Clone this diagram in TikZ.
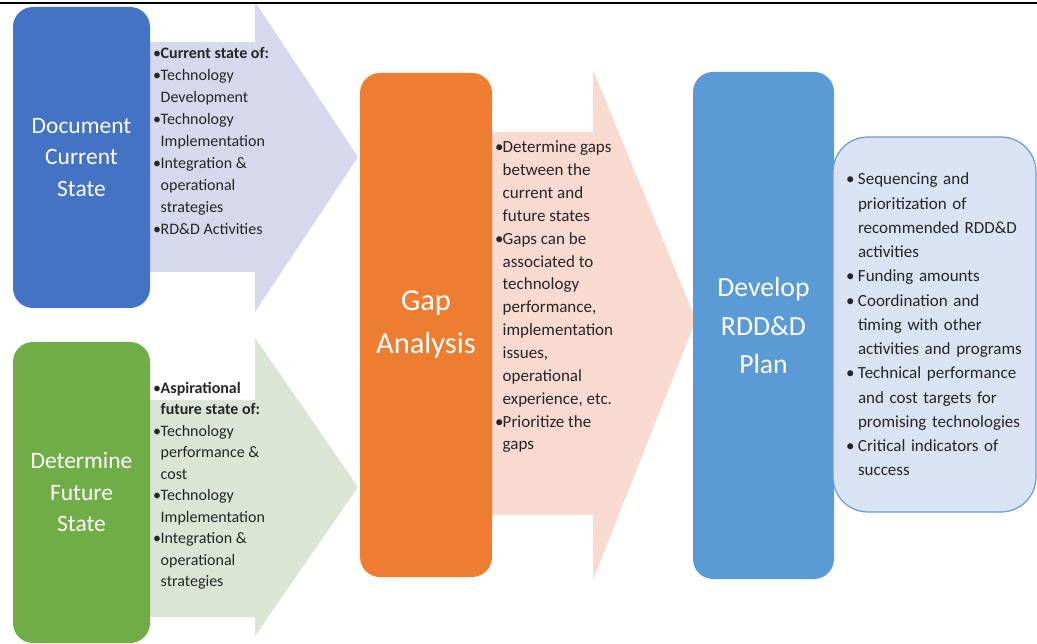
\documentclass[tikz,border=0pt]{standalone}
\usepackage{fontspec}
\setmainfont{Carlito}
\usepackage{tikz}
\usetikzlibrary{positioning}
\definecolor{docblue}{HTML}{4472C4}
\definecolor{futgreen}{HTML}{70AD47}
\definecolor{gaporange}{HTML}{ED7D31}
\definecolor{planblue}{HTML}{5B9BD5}
\definecolor{curpale}{HTML}{D6D9EB}
\definecolor{futpale}{HTML}{DBE5D5}
\definecolor{gappale}{HTML}{F8DAD0}
\definecolor{planpale}{HTML}{DAE3F3}
\definecolor{planedge}{HTML}{6A9AD2}
\definecolor{notegray}{HTML}{262626}
\newcommand{\bl}{\makebox[7.5pt][l]{\textbullet}}
\newcommand{\ct}{\hspace*{7.5pt}}
\newcommand{\bll}{\makebox[12pt][l]{\textbullet}}
\newcommand{\ctt}{\hspace*{12pt}}

\begin{document}
\begin{tikzpicture}[x=1pt,y=-1pt,
  stepbox/.style={rectangle,rounded corners=20pt,minimum width=137pt,text=white,align=center,inner sep=0pt},
  notes/.style={anchor=north west,align=left,inner sep=0pt,text=notegray}]
\useasboundingbox (0,0) rectangle (1037,644);

\fill[curpale] (100,42) -- (255,42) -- (255,2) -- (358,157) -- (255,312) -- (255,272) -- (100,272) -- cycle;
\fill[futpale] (100,400) -- (255,400) -- (255,338) -- (358,487) -- (255,636) -- (255,617) -- (100,617) -- cycle;
\fill[gappale] (450,132) -- (593,132) -- (593,70) -- (696,320) -- (593,580) -- (593,515) -- (450,515) -- cycle;
\draw[line width=2.5pt] (0,3) -- (1037,3);

\node[stepbox,fill=docblue,minimum height=301pt,font=\fontsize{23.5}{31.5}\selectfont] (doc) at (81.5,157.5) {Document\\Current\\State};
\node[stepbox,fill=futgreen,minimum height=301pt,font=\fontsize{23.5}{31.5}\selectfont] (fut) at (81.5,492.5) {Determine\\Future\\State};
\node[stepbox,fill=gaporange,minimum width=132pt,minimum height=504pt,font=\fontsize{30.5}{43}\selectfont] (gap) at (426,325) {Gap\\Analysis};
\node[stepbox,fill=planblue,minimum width=141pt,minimum height=507pt,font=\fontsize{27.7}{38.5}\selectfont] (plan) at (763.5,325.5) {Develop\\RDD\&D\\Plan};

\node[notes,font=\fontsize{16}{22}\selectfont] (curtxt) at (153,47) {\bl\textbf{Current state of:}\\ \bl Technology\\ \ct Development\\ \bl Technology\\ \ct Implementation\\ \bl Integration \&\\ \ct operational\\ \ct strategies\\ \bl RD\&D Activities};
\node[notes,font=\fontsize{16}{21.5}\selectfont] (futtxt) at (153,382) {\bl\textbf{Aspirational}\\ \ct\textbf{future state of:}\\ \bl Technology\\ \ct performance \&\\ \ct cost\\ \bl Technology\\ \ct Implementation\\ \bl Integration \&\\ \ct operational\\ \ct strategies};
\node[notes,font=\fontsize{17}{22.85}\selectfont] (gaptxt) at (495,141) {\bl Determine gaps\\ \ct between the\\ \ct current and\\ \ct future states\\ \bl Gaps can be\\ \ct associated to\\ \ct technology\\ \ct performance,\\ \ct implementation\\ \ct issues,\\ \ct operational\\ \ct experience, etc.\\ \bl Prioritize the\\ \ct gaps};

\node[draw=planedge,line width=1.2pt,fill=planpale,rounded corners=35pt,minimum width=203pt,minimum height=375pt,text width=177pt,inner xsep=13pt,align=left,text=notegray,font=\fontsize{17}{24.25}\selectfont] (acts) at (934.5,324.5) {\bll Sequencing and\\ \ctt prioritization of\\ \ctt recommended RDD\&D\\ \ctt activities\\ \bll Funding amounts\\ \bll Coordination and\\ \ctt timing with other\\ \ctt activities and programs\\ \bll Technical performance\\ \ctt and cost targets for\\ \ctt promising technologies\\ \bll Critical indicators of\\ \ctt success};
\end{tikzpicture}
\end{document}
